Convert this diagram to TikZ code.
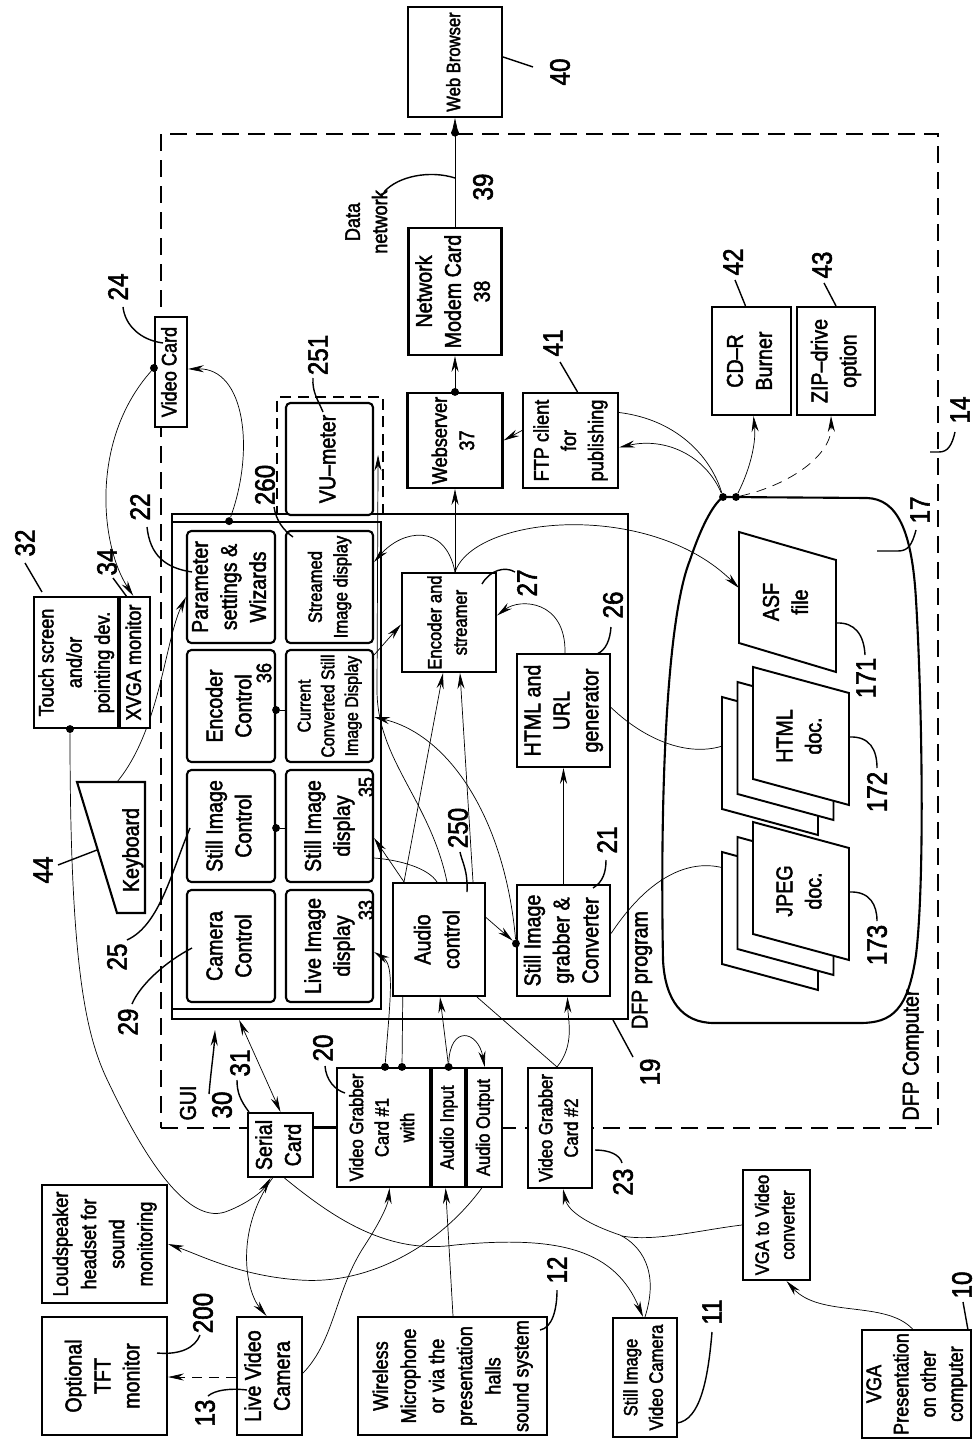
\documentclass[tikz,border=0pt]{standalone}
\usepackage{fontspec}
\setmainfont{Liberation Sans}[FakeStretch=0.86, FakeBold=2]
\usepackage{graphicx}
\usetikzlibrary{arrows.meta, calc, positioning, backgrounds}

\newcommand{\szA}{\fontsize{13}{16.5}\selectfont}
\newcommand{\szB}{\fontsize{12}{15.5}\selectfont}
\newcommand{\szC}{\fontsize{11}{14.5}\selectfont}
\newcommand{\szD}{\fontsize{10.5}{13.5}\selectfont}
\newcommand{\szE}{\fontsize{12}{16}\selectfont}
\newcommand{\szF}{\fontsize{12}{16}\selectfont}
\newcommand{\szL}{\fontsize{16}{18}\selectfont}
\newcommand{\vtxt}[1]{\rotatebox{90}{\begin{tabular}{@{}c@{}}#1\end{tabular}}}

\tikzset{
  box/.style={draw, line width=1.2pt, fill=white, inner sep=0pt, font=\szA},
  gbox/.style={box, rounded corners=2.5pt},
  sz/.style 2 args={minimum width=#1*0.2mm, minimum height=#2*0.2mm},
  frame/.style={draw, line width=1pt, inner sep=0pt},
  pcline/.style={draw, line width=1.5pt, dash pattern=on 3.4mm off 1.8mm, inner sep=0pt},
  lbl/.style={rotate=90, font=\szL, inner sep=0pt},
  dot/.style={circle, fill, inner sep=0pt, minimum size=4.5pt},
  lead/.style={line width=0.8pt},
  wire/.style={line width=0.9pt},
  sheet/.style={draw, line width=1.1pt, fill=white},
}

\begin{document}
\begin{tikzpicture}[x=0.2mm, y=-0.2mm, >={Stealth[length=9pt,width=4pt]}]
    \useasboundingbox (0,0) rectangle (973,1440);

    % Frames
    \node[pcline, sz={777}{994}] (pc) at (549.5,631) {};
    \node[frame, sz={456}{505}] (dfp) at (400,766.5) {};
    \node[frame, sz={209}{487}] (gui) at (276.5,765.5) {};
    \node[frame, dash pattern=on 2.2mm off 1.3mm, sz={106}{117}] (vubox) at (330,455.5) {};

    % Network side
    \node[box, font=\szC, sz={94}{110}] (web) at (455,62) {\vtxt{Web Browser}};
    \node[box, sz={93}{127}] (net) at (455,291.5) {\vtxt{Network\\Modem Card\\38}};
    \node[box, font=\szB, sz={95}{95}] (wsrv) at (455,440.5) {\vtxt{Webserver\\37}};
    \node[box, font=\szB, sz={95}{95}] (ftp) at (570.5,440.5) {\vtxt{FTP client\\for\\publishing}};
    \node[box, sz={79}{108}] (cdr) at (751.5,361) {\vtxt{CD--R\\Burner}};
    \node[box, sz={78}{108}] (zip) at (836,361) {\vtxt{ZIP--drive\\option}};

    % DFP program blocks
    \node[box, font=\szC, sz={94}{99}] (enc) at (449,622.5) {\vtxt{Encoder and\\streamer}};
    \node[box, sz={93}{113}] (urlgen) at (563.5,710.5) {\vtxt{HTML and\\URL\\generator}};
    \node[box, sz={93}{111}] (grab) at (563.5,940.5) {\vtxt{Still Image\\grabber \&\\Converter}};
    \node[box, sz={92}{113}] (aud) at (439,939.5) {\vtxt{Audio\\control}};

    % GUI blocks
    \node[gbox, sz={87}{112}] (vu) at (329.5,459) {\vtxt{VU--meter}};
    \node[gbox, sz={88}{112}] (parset) at (231,587) {\vtxt{Parameter\\settings \&\\Wizards}};
    \node[gbox, font=\szC, sz={87}{112}] (strdisp) at (329.5,587) {\vtxt{Streamed\\Image display}};
    \node[gbox, sz={88}{112}] (encctl) at (231,706) {\vtxt{Encoder\\Control}};
    \node[gbox, font=\szD, sz={87}{112}] (curdisp) at (329.5,706) {\vtxt{Current\\Converted Still\\Image Display}};
    \node[gbox, sz={88}{112}] (stilctl) at (231,826) {\vtxt{Still Image\\Control}};
    \node[gbox, sz={87}{112}] (stildisp) at (329.5,826) {\vtxt{Still Image\\display}};
    \node[gbox, sz={88}{112}] (camctl) at (231,946) {\vtxt{Camera\\Control}};
    \node[gbox, sz={87}{112}] (livedisp) at (329.5,946) {\vtxt{Live Image\\display}};

    % Peripherals
    \node[box, font=\szE, sz={82}{131}] (touch) at (76,662.5) {\vtxt{Touch screen\\and/or\\pointing dev.}};
    \node[box, font=\szE, sz={30}{131}, right=0pt of touch] (xvga) {\vtxt{XVGA monitor}};
    \node[box, font=\szB, sz={32}{110}] (vcard) at (171,372) {\vtxt{Video Card}};
    \draw[line width=1.2pt] (77,782) -- (145,782) -- (145,913) -- (117,913) -- cycle;
    \coordinate (kbtop) at (117,782);
    \node[font=\szA] (kbd) at (133,850) {\vtxt{Keyboard}};

    \node[box, sz={65}{64}] (ser) at (280.5,1145) {\vtxt{Serial\\Card}};
    \node[box, font=\szC, sz={93}{119}] (vg1) at (383.5,1127.5) {\vtxt{Video Grabber\\Card \#1\\with}};
    \node[box, font=\szC, sz={33}{119}, right=0pt of vg1] (ain) {\vtxt{Audio Input}};
    \node[box, font=\szC, sz={35}{119}, right=0pt of ain] (aout) {\vtxt{Audio Output}};
    \node[box, font=\szC, sz={64}{120}] (vg2) at (560,1128) {\vtxt{Video Grabber\\Card \#2}};

    \node[box, sz={125}{118}] (tft) at (104.5,1376) {\vtxt{Optional\\TFT\\monitor}};
    \node[box, font=\szE, sz={125}{118}] (spk) at (104.5,1244) {\vtxt{Loudspeaker\\headset for\\sound\\monitoring}};
    \node[box, sz={65}{118}] (lcam) at (269.5,1376) {\vtxt{Live Video\\Camera}};
    \node[box, font=\szF, sz={189}{118}] (mic) at (452.5,1376) {\vtxt{Wireless\\Microphone\\or via the\\presentation\\halls\\sound system}};
    \node[box, font=\szC, sz={64}{119}] (scam) at (645,1377.5) {\vtxt{Still Image\\Video Camera}};
    \node[box, font=\szC, sz={67}{110}] (vconv) at (776.5,1225) {\vtxt{VGA to Video\\converter}};
    \node[box, font=\szB, sz={109}{108}] (vpres) at (916.5,1384) {\vtxt{VGA\\Presentation\\on other\\computer}};

    % Storage
    \draw[line width=1.2pt] (723,497) -- (867,498) .. controls (897,499) and (912,530) .. (916,600)
        .. controls (922,700) and (925,880) .. (916,955) .. controls (908,1010) and (892,1023) .. (860,1023)
        -- (714,1023) .. controls (682,1023) and (665,1000) .. (663,960)
        .. controls (660,800) and (666,620) .. (690,560) .. controls (700,530) and (712,505) .. (723,497) -- cycle;
    \draw[sheet] (739,532) -- (836,560) -- (836,672) -- (739,643) -- cycle;
    \node[font=\szA] (asf) at (787.5,602) {\vtxt{ASF\\file}};
    \coordinate (asfw) at (739,588);
    \draw[sheet] (722,697) -- ++(96,26) -- ++(0,112) -- ++(-96,-26) -- cycle;
    \draw[sheet] (737.5,682) -- ++(96,26) -- ++(0,112) -- ++(-96,-26) -- cycle;
    \draw[sheet] (753,667) -- ++(96,26) -- ++(0,112) -- ++(-96,-26) -- cycle;
    \node[font=\szA] (html) at (801,736) {\vtxt{HTML\\doc.}};
    \coordinate (htmw) at (753,728);
    \draw[sheet] (722,852) -- ++(96,26) -- ++(0,112) -- ++(-96,-26) -- cycle;
    \draw[sheet] (737.5,837) -- ++(96,26) -- ++(0,112) -- ++(-96,-26) -- cycle;
    \draw[sheet] (753,822) -- ++(96,26) -- ++(0,112) -- ++(-96,-26) -- cycle;
    \node[font=\szA] (jpeg) at (801,891) {\vtxt{JPEG\\doc.}};
    \coordinate (jpgw) at (753,883);

    % Junction dots
    \node[dot] (dnet) at (net.north |- pc.north) {};
    \node[dot] (dws) at (wsrv.north) {};
    \node[dot] (dst1) at (723,497) {};
    \node[dot] (dst2) at (736,497) {};
    \node[dot] (dgui) at ($(gui.north west)+(58,0)$) {};
    \node[dot] (dvc) at ($(vcard.west)+(0,-4)$) {};
    \node[dot] (dts) at ($(touch.south)+(-6,0)$) {};
    \node[dot] (dv1) at ($(vg1.north)+(1.5,0)$) {};
    \node[dot] (dv2) at ($(vg1.north)+(18.5,0)$) {};
    \node[dot] (dain) at (ain.north) {};
    \node[dot] (dgrab) at ($(grab.west)+(0,3)$) {};
    \node[dot] (dec) at ($(encctl.east)+(0,4)$) {};
    \node[dot] (dsc) at ($(stilctl.east)+(0,2)$) {};

    % Connectors
    \begin{scope}[on background layer, wire]
    \draw[->] (net.north) -- (web.south);
    \draw[->] (wsrv.north) -- (net.south);
    \draw[->] ($(enc.north)+(6,0)$) -- (wsrv.south);
    \draw[->] ($(ftp.west)+(0,-10)$) -- (wsrv.east);
    \draw[->] ($(enc.north)+(6,0)$) .. controls (445,522) and (402,530) .. ($(strdisp.east)+(0,-25)$);
    \draw[->] ($(enc.north)+(6,0)$) .. controls (475,515) and (650,500) .. (asfw);
    \draw[->] ($(urlgen.north)+(1.5,0)$) .. controls (566,600) and (520,598) .. ($(enc.east)+(0,-7)$);
    \draw[->] ($(aud.north)+(34,0)$) -- ($(enc.south)+(11,0)$);
    \draw (dv2) -- ($(aud.north)+(-35,0)$);
    \draw[->] ($(aud.north)+(-35,0)$) -- ($(enc.south)+(-6,0)$);
    \draw[->] ($(aud.north)+(-35,0)$) -- ($(stildisp.east)+(0,12)$);
    \draw[->] ($(aud.north)+(8,0)$) .. controls (430,800) and (377,760) .. (377,690) -- ($(vu.east)+(4,-4)$);
    \draw[->] ($(curdisp.east)+(0,-51)$) -- ($(enc.west)+(0,2)$);
    \draw[->] (dgrab) .. controls (505,820) and (450,735) .. ($(curdisp.east)+(0,11)$);
    \draw[->] ($(aud.east)+(0,-22)$) -- (dgrab);
    \draw[->] (grab.north) -- (urlgen.south);
    \draw[->] ($(vg2.north)+(-3,0)$) .. controls (575,1045) and (568,1020) .. ($(grab.south)+(4,0)$);
    \draw ($(vg2.north)+(-3,0)$) -- ($(aud.south)+(38,0)$);
    \draw[->] (dain) -- ($(aud.south)+(1,0)$);
    \draw[->] (dain) .. controls (450,1025) and (478,1030) .. (aout.north);
    \draw[->] (dv1) .. controls (390,1000) and (395,965) .. ($(livedisp.east)+(0,6)$);
    \draw ($(stildisp.east)+(0,32)$) .. controls (400,860) and (428,868) .. ($(aud.north)+(-2,0)$);
    \draw[->] ($(grab.east)+(0,-7)$) .. controls (660,860) and (710,855) .. (jpgw);
    \draw[->] ($(urlgen.east)+(0,-3)$) .. controls (650,745) and (705,765) .. (htmw);
    \draw ($(ftp.east)+(0,-28)$) .. controls (680,420) and (712,460) .. (dst1);
    \draw[->] (dst1) .. controls (705,455) and (665,437) .. ($(ftp.east)+(0,7)$);
    \draw[->] (dst2) .. controls (752,465) and (756,440) .. ($(cdr.south)+(2,0)$);
    \draw[->, dash pattern=on 2mm off 1.4mm] (dst2) .. controls (790,485) and (832,455) .. ($(zip.south)+(-5,0)$);
    \draw[->] (dgui) .. controls (255,450) and (245,368) .. ($(vcard.east)+(0,-3)$);
    \draw[->] (dvc) .. controls (90,440) and (100,545) .. ($(xvga.north)+(-2,0)$);
    \draw[->] (kbtop) .. controls (160,730) and (165,640) .. ($(parset.west)+(0,10)$);
    \draw[->] (dts) .. controls (70,960) and (85,1030) .. (105,1075) .. controls (140,1150) and (185,1225) .. (225,1212)
        .. controls (245,1205) and (262,1192) .. ($(ser.south)+(-10,0)$);
    \draw[->] ($(ser.south)+(-8,0)$) .. controls (235,1230) and (245,1290) .. ($(lcam.north)+(-3,0)$);
    \draw[->] ($(ser.south)+(4,0)$) .. controls (330,1215) and (385,1255) .. (455,1245)
        .. controls (560,1235) and (615,1250) .. ($(scam.north)+(-2,0)$);
    \draw[->] ($(aout.south)+(-3,0)$) .. controls (440,1245) and (370,1285) .. (300,1280)
        .. controls (240,1276) and (200,1255) .. (spk.east);
    \draw[->] ($(lcam.east)+(0,-3)$) .. controls (335,1340) and (335,1290) .. (365,1245)
        .. controls (380,1222) and (388,1205) .. ($(vg1.south)+(6,0)$);
    \draw[->] ($(mic.north)+(0.5,0)$) -- ($(ain.south)+(-3,0)$);
    \draw[->] (scam.north) .. controls (660,1270) and (640,1245) .. (620,1235)
        .. controls (590,1225) and (568,1212) .. ($(vg2.south)+(3,0)$);
    \draw (vconv.west) .. controls (700,1230) and (655,1242) .. (622,1236);
    \draw[->] ($(vpres.north)+(-4,0)$) .. controls (885,1300) and (820,1318) .. ($(vconv.south)+(10,0)$);
    \draw[->, dash pattern=on 2mm off 1.4mm] ($(lcam.west)+(0,1)$) -- ($(tft.east)+(0,1)$);
    \draw[<->] (ser.north) -- ($(dfp.south west)+(68,0)$);
    \draw (dec) -- (dec -| curdisp.west);
    \draw (dsc) -- (dsc -| stildisp.west);
    \end{scope}
    \draw[line width=1.5pt] (vg1.west -| ser.east) -- (vg1.west);

    % Reference numerals
    \node[lbl] (l40) at (560,72) {40};
    \draw[lead] ($(web.east)+(0,-5)$) -- (533,67);
    \node[lbl] (l39) at (483,187) {39};
    \node[font=\szB] (dnw) at (368,222) {\vtxt{Data\\network}};
    \draw[lead] (384,192) .. controls (398,176) and (430,170) .. (455,178);
    \node[lbl] (l41) at (553,343) {41};
    \draw[lead] (560,362) -- ($(ftp.north)+(7,0)$);
    \node[lbl] (l42) at (733,262) {42};
    \draw[lead] (735,280) -- ($(cdr.north)+(-6,0)$);
    \node[lbl] (l43) at (822,265) {43};
    \draw[lead] (824,283) -- (zip.north);
    \node[lbl] (l14) at (960,410) {14};
    \draw[lead] (930,452) -- (939,452) .. controls (948,452) and (952,445) .. (955,432);
    \node[lbl] (l17) at (920,510) {17};
    \draw[lead] (877,551) -- (898,551) .. controls (908,551) and (912,545) .. (916,530);
    \node[lbl] (l171) at (866,678) {171};
    \draw[lead] (836,623) .. controls (855,622) and (864,635) .. (865,655);
    \node[lbl] (l172) at (877,792) {172};
    \draw[lead] (849,737) .. controls (870,736) and (877,750) .. (877,768);
    \node[lbl] (l173) at (877,945) {173};
    \draw[lead] (849,892) .. controls (870,891) and (877,905) .. (877,921);
    \node[lbl] (l19) at (650,1072) {19};
    \draw[lead] (613,1020) -- (633,1057);
    \node[lbl] (l21) at (607,840) {21};
    \draw[lead] (593,888) .. controls (603,882) and (606,872) .. (606,860);
    \node[lbl] (l250) at (458,828) {250};
    \draw[lead] (467,892) .. controls (468,870) and (462,862) .. (460,852);
    \node[lbl] (l26) at (613,605) {26};
    \draw[lead] (597,654) .. controls (606,650) and (610,640) .. (611,627);
    \node[lbl] (l27) at (527,583) {27};
    \draw[lead] (482,584) .. controls (490,570) and (505,566) .. (515,572);
    \node[lbl] (l20) at (323,1048) {20};
    \draw[lead] (325,1066) .. controls (326,1080) and (335,1090) .. (345,1093);
    \node[lbl] (l23) at (623,1182) {23};
    \draw[lead] (595,1150) .. controls (610,1150) and (620,1155) .. (622,1163);
    \node[lbl] (l12) at (557,1270) {12};
    \draw[lead] (540,1330) .. controls (552,1328) and (557,1310) .. (557,1290);
    \node[lbl] (l11) at (712,1312) {11};
    \draw[lead] (677,1423) .. controls (700,1420) and (708,1380) .. (712,1332);
    \node[lbl] (l10) at (962,1285) {10};
    \draw[lead] (963,1302) -- (968,1330);
    \node[lbl] (l13) at (205,1413) {13};
    \draw[lead] (247,1390) .. controls (230,1388) and (215,1390) .. (208,1396);
    \node[lbl] (l200) at (203,1313) {200};
    \draw[lead] (157,1353) .. controls (180,1355) and (195,1348) .. (200,1335);
    \node[lbl] (l29) at (128,1022) {29};
    \draw[lead] (192,948) .. controls (165,962) and (140,985) .. (132,1004);
    \node[lbl] (l25) at (117,957) {25};
    \draw[lead] (190,828) .. controls (172,870) and (160,925) .. (127,940);
    \node[lbl] (l44) at (43,870) {44};
    \draw[lead] (97,850) -- (58,865);
    \node[lbl] (l22) at (140,507) {22};
    \draw[lead] (192,572) .. controls (165,568) and (150,555) .. (147,527);
    \node[lbl] (l260) at (265,485) {260};
    \draw[lead] (293,537) .. controls (283,530) and (276,520) .. (274,507);
    \node[lbl] (l251) at (318,355) {251};
    \draw[lead] (323,412) .. controls (318,400) and (312,392) .. (313,378);
    \node[lbl] (l24) at (118,287) {24};
    \draw[lead] (163,343) .. controls (140,340) and (125,325) .. (123,307);
    \node[lbl] (l32) at (25,543) {32};
    \draw[lead] (42,592) -- (25,563);
    \node[lbl] (l34) at (107,562) {34};
    \draw[lead] (127,597) -- (113,578);
    \node[lbl] (l31) at (240,1063) {31};
    \draw[lead] ($(ser.north west)+(2,0)$) .. controls (240,1100) and (237,1092) .. (237,1080);
    \node[lbl] (l30) at (222,1105) {30};
    \draw[lead, ->] (209,1094) .. controls (211,1070) and (214,1050) .. (215,1030);
    \node[rotate=90, font=\szA] (guit) at (188,1103) {GUI};
    \node[rotate=90, font=\szA] (dfpt) at (642,970) {DFP program};
    \node[rotate=90, font=\szA] (pct) at (913,1055) {DFP Computer};
    \node[rotate=90, font=\szB] (n36) at (264,673) {36};
    \node[rotate=90, font=\szB] (n35) at (366,787) {35};
    \node[rotate=90, font=\szB] (n33) at (366,910) {33};
\end{tikzpicture}
\end{document}
